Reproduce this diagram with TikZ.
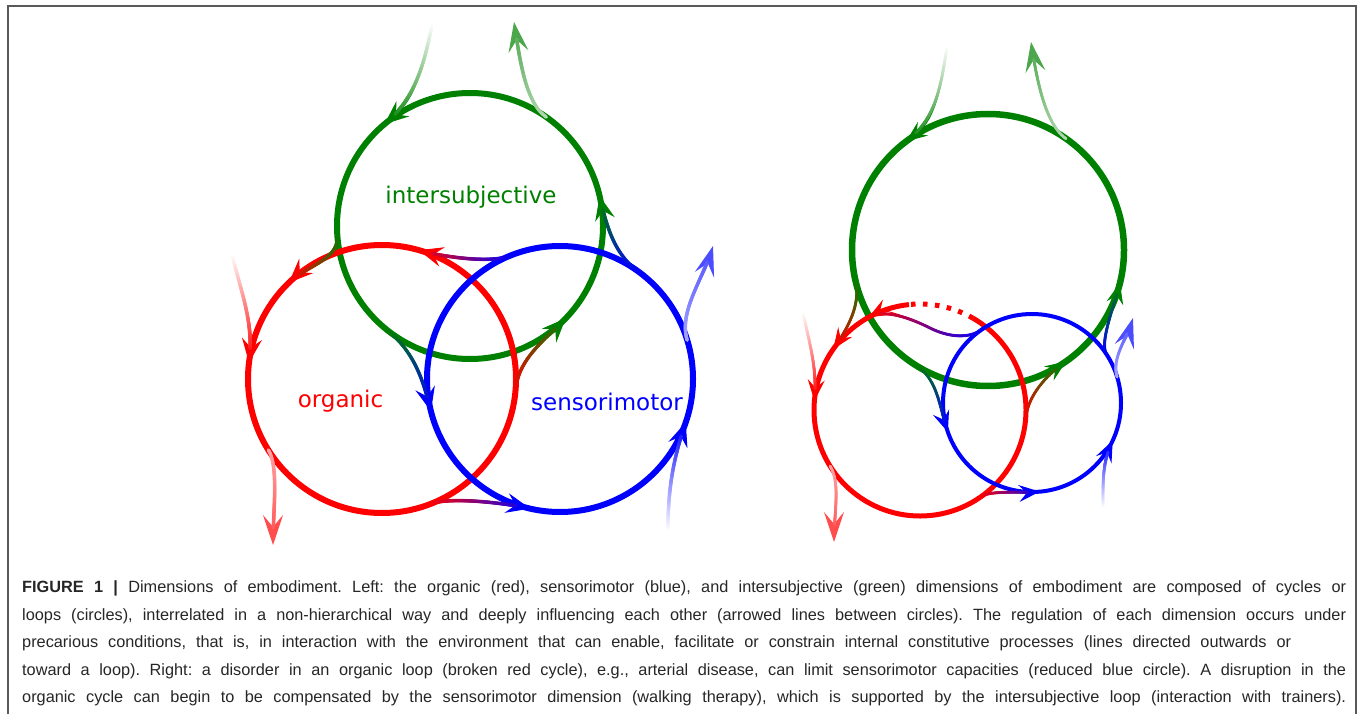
\documentclass[tikz,border=0pt]{standalone}
\usepackage{fontspec}
\setmainfont{Liberation Sans}
\newfontfamily\lblfont{DejaVu Sans}
\newfontfamily\capfont{Liberation Sans}
\usetikzlibrary{arrows.meta,decorations.markings}
\definecolor{G}{RGB}{0,128,0}
\definecolor{R}{RGB}{255,0,0}
\definecolor{B}{RGB}{0,0,255}
\colorlet{Gl}{G!30!white}\colorlet{Gm}{G!70!white}
\colorlet{Rl}{R!35!white}\colorlet{Rm}{R!70!white}
\colorlet{Bl}{B!35!white}\colorlet{Bm}{B!70!white}
\newcommand\capline[2]{\makebox[#1][s]{#2}}
\newcommand\gcol[2]{\pgfmathtruncatemacro\gp{100*\pgfkeysvalueof{/pgf/decoration/mark info/distance from start}/\pgfdecoratedpathlength}\colorlet{gc}{#2!\gp!#1}}
\tikzset{
  tC/.tip={Stealth[length=24pt,width=20pt,inset=9pt]},
  tO/.tip={Stealth[length=30pt,width=20pt,inset=12pt]},
  tS/.tip={Stealth[length=21pt,width=17pt,inset=8pt]},
  loopc/.style={circle, draw=#1, inner sep=0pt, outer sep=0pt},
  gline/.style n args={5}{line width=1pt, draw=#2, arrows={-#3},
    postaction={decorate, decoration={markings,
      mark=between positions 0 and -#4 step 0.4pt with {\gcol{#1}{#2}\fill[gc] (0,0) circle (#5);}}}},
  conL/.style 2 args={gline={#1}{#2}{tC}{14pt}{1.8pt}},
  outL/.style 2 args={gline={#1}{#2}{tO}{17pt}{1.8pt}},
  conS/.style 2 args={gline={#1}{#2}{tS}{12pt}{1.5pt}},
  outS/.style 2 args={gline={#1}{#2}{tO}{17pt}{1.5pt}},
  lbl/.style={font=\lblfont\fontsize{23}{27}\selectfont, anchor=base, inner sep=0pt},
  captxt/.style={font=\capfont\fontsize{16.3}{20}\selectfont\frenchspacing, anchor=base west, inner sep=0pt, text=black!85},
}
\begin{document}
\begin{tikzpicture}[x=1pt,y=1pt]
\useasboundingbox (0,0) rectangle (1360,-714);
\draw[black!65, line width=1.5pt] (8,-720) -- (8,-6) -- (1356,-6) -- (1356,-720);

% ---------- left diagram ----------
\node[loopc=G, line width=6pt, minimum size=266pt] (G) at (470,-226) {};
\node[loopc=R, line width=6pt, minimum size=268pt] (R) at (382,-379) {};
\node[loopc=B, line width=6pt, minimum size=266pt] (B) at (560,-379) {};
\node[lbl, text=G] (tG) at (471,-204) {intersubjective};
\node[lbl, text=R] (tR) at (340.5,-407) {organic};
\node[lbl, text=B] (tB) at (607,-410) {sensorimotor};

\draw[conL={G}{R}] (G.184) .. controls +(1.7,-25) and +(18,17.4) .. (R.134);
\draw[conL={B}{R}] (B.112) .. controls +(-20.4,-8.3) and +(21.1,-6.1) .. (R.74);
\draw[conL={G}{B}] (G.231) .. controls +(27.2,-22) and +(-8.5,34) .. (B.194);
\draw[conL={R}{G}] (R.355) .. controls +(2.8,31.9) and +(-22.2,-23) .. (G.316);
\draw[conL={R}{B}] (R.291) .. controls +(20.5,7.9) and +(-21.4,5) .. (B.257);
\draw[conL={B}{G}] (B.54) .. controls +(-24.3,17.6) and +(6.75,-29.2) .. (G.13);

\coordinate (gin) at (432,-25);
\coordinate (gout) at (514,-22);
\coordinate (rin) at (232,-255);
\coordinate (rout) at (273,-545);
\coordinate (bout) at (713,-246);
\coordinate (bin) at (668,-530);
\draw[conL={white}{G}] (gin) .. controls +(-8,-40) and +(30.6,25.7) .. (G.130);
\draw[outL={Gl}{Gm}] (G.55) .. controls +(-20.5,14.3) and +(6,-40) .. (gout);
\draw[conL={white}{R}] (rin) .. controls +(10,-40) and +(4.9,39.7) .. (R.173);
\draw[outL={Rl}{Rm}] (R.212) .. controls +(10.6,-17) and +(0,35) .. (rout);
\draw[outL={Bl}{Bm}] (B.17) .. controls +(-8.8,28.7) and +(-10,-33.6) .. (bout);
\draw[conL={white}{B}] (bin) .. controls +(0,40) and +(-13,-37.8) .. (B.341);

% ---------- right diagram ----------
\node[loopc=G, line width=6.5pt, minimum size=272pt] (G2) at (988,-250) {};
\node[circle, inner sep=0pt, outer sep=0pt, minimum size=212pt] (R2) at (920,-410) {};
\draw[R, line width=5pt] (R2.96) arc[start angle=96, end angle=420, radius=106pt];
\draw[R, line width=5pt, dash pattern=on 4.5pt off 7.5pt] (R2.60) arc[start angle=60, end angle=96, radius=106pt];
\node[loopc=B, line width=4pt, minimum size=178pt] (B2) at (1032,-403) {};

\draw[conS={G}{R}] (G2.193) .. controls +(5.6,-24.4) and +(14.3,20.5) .. (R2.145);
\draw[conS={B}{R}] (B2.125) .. controls +(-11.5,-8) and (950,-338) .. (930,-328) .. controls (910,-318) and +(15.75,8.7) .. (R2.119);
\draw[conS={G}{B}] (G2.238) .. controls +(22,-13.8) and +(-8.5,24.6) .. (B2.199);
\draw[conS={R}{G}] (R2.355) .. controls +(2.1,23.9) and +(-19.7,-13.8) .. (G2.305);
\draw[conS={R}{B}] (R2.305) .. controls +(9.8,6.9) and +(-19.9,-1.7) .. (B2.275);
\draw[conS={B}{G}] (B2.33) .. controls +(-7.6,11.7) and +(-5.8,-23.3) .. (G2.346);

\coordinate (gin2) at (947,-47);
\coordinate (gout2) at (1031,-42);
\coordinate (rin2) at (803,-313);
\coordinate (rout2) at (834,-542);
\coordinate (bout2) at (1133,-318);
\coordinate (bin2) at (1103,-507);
\draw[conS={white}{G}] (gin2) .. controls +(-6,-38) and +(30.4,22.9) .. (G2.127);
\draw[outS={Gl}{Gm}] (G2.55) .. controls +(-20.5,14.3) and +(6,-40) .. (gout2);
\draw[conS={white}{R}] (rin2) .. controls +(7,-32) and +(2.8,32) .. (R2.175);
\draw[outS={Rl}{Rm}] (R2.212) .. controls +(10.6,-17) and +(0,30) .. (rout2);
\draw[outS={Bl}{Bm}] (B2.17) .. controls +(-5.8,19.1) and +(-6.6,-22) .. (bout2);
\draw[conS={white}{B}] (bin2) .. controls +(0,25) and +(-10.6,-22.7) .. (B2.335);

% ---------- caption ----------
\node[captxt] (c1) at (22,-592) {\capline{1324pt}{\textbf{FIGURE 1 |} Dimensions of embodiment. Left: the organic (red), sensorimotor (blue), and intersubjective (green) dimensions of embodiment are composed of cycles or}};
\node[captxt] (c2) at (22,-620) {\capline{1324pt}{loops (circles), interrelated in a non-hierarchical way and deeply influencing each other (arrowed lines between circles). The regulation of each dimension occurs under}};
\node[captxt] (c3) at (22,-647) {\capline{1269pt}{precarious conditions, that is, in interaction with the environment that can enable, facilitate or constrain internal constitutive processes (lines directed outwards or}};
\node[captxt] (c4) at (22,-675) {\capline{1324pt}{toward a loop). Right: a disorder in an organic loop (broken red cycle), e.g., arterial disease, can limit sensorimotor capacities (reduced blue circle). A disruption in the}};
\node[captxt] (c5) at (22,-702) {\capline{1324pt}{organic cycle can begin to be compensated by the sensorimotor dimension (walking therapy), which is supported by the intersubjective loop (interaction with trainers).}};
\end{tikzpicture}
\end{document}
